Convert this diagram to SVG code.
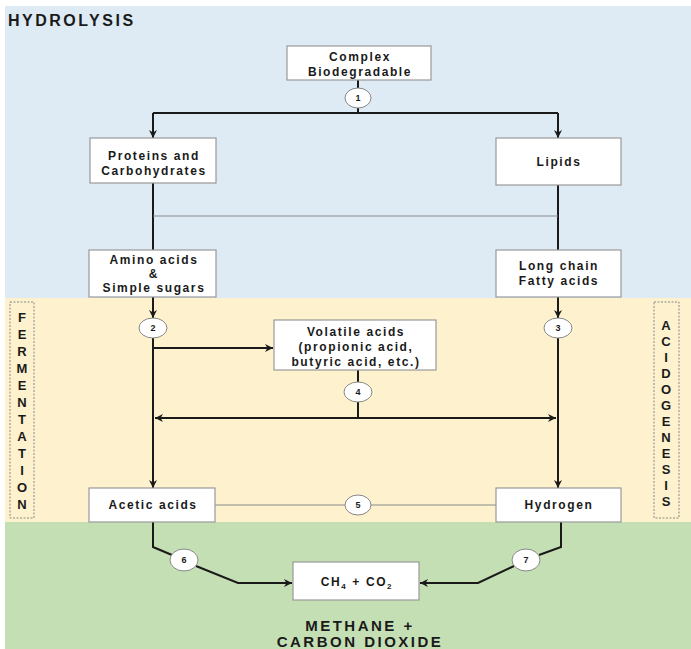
<svg xmlns="http://www.w3.org/2000/svg" width="691" height="649" viewBox="0 0 691 649">
<defs>
<marker id="ah" viewBox="0 0 10 10" refX="10" refY="5" markerWidth="8" markerHeight="8" markerUnits="userSpaceOnUse" orient="auto">
<path d="M0,0 L10,5 L0,10 L3,5 Z" fill="#1a1a1a"/>
</marker>
<style>
.box{fill:#fff;stroke:#999;stroke-width:1.2}
.t{font-family:"Liberation Sans",Arial,sans-serif;font-weight:bold;font-size:12px;fill:#1a1a1a;text-anchor:middle;letter-spacing:1.6px}
.n{font-family:"Liberation Sans",Arial,sans-serif;font-weight:bold;font-size:9px;fill:#1a1a1a;text-anchor:middle}
.h{font-family:"Liberation Sans",Arial,sans-serif;font-weight:bold;font-size:15px;fill:#1a1a1a;letter-spacing:2.5px}
.v{font-family:"Liberation Sans",Arial,sans-serif;font-weight:bold;font-size:13px;fill:#1a1a1a;text-anchor:middle}
.c{fill:none;stroke:#1a1a1a;stroke-width:2}
.thin{fill:none;stroke:#8a8a8a;stroke-width:1}
.badge{fill:#fff;stroke:#888;stroke-width:1}
.dash{fill:none;stroke:#888;stroke-width:1;stroke-dasharray:2,1.5}
</style>
</defs>
<rect x="0" y="0" width="691" height="649" fill="#fff"/>
<rect x="5" y="6" width="686" height="292" fill="#deebf5"/>
<rect x="5" y="298" width="686" height="224" fill="#fdf2cd"/>
<rect x="5" y="522" width="686" height="127" fill="#c5dfb5"/>

<text class="h" x="8" y="26" style="font-size:16px">HYDROLYSIS</text>

<g id="connectors">
<path class="c" d="M358,80 V88"/>
<path class="c" d="M358,108 V113"/>
<path class="c" d="M153,113 H558"/>
<path class="c" d="M153,113 V138" marker-end="url(#ah)"/>
<path class="c" d="M558,113 V138" marker-end="url(#ah)"/>
<path class="c" d="M153,183 V250"/>
<path class="c" d="M558,185 V250"/>
<path class="thin" d="M153,216 H558"/>
<path class="c" d="M153,297 V318" marker-end="url(#ah)"/>
<path class="c" d="M558,297 V318" marker-end="url(#ah)"/>
<path class="c" d="M153,338 V488" marker-end="url(#ah)"/>
<path class="c" d="M153,348 H273" marker-end="url(#ah)"/>
<path class="c" d="M558,338 V488" marker-end="url(#ah)"/>
<path class="c" d="M358,370 V382"/>
<path class="c" d="M358,402 V418"/>
<path class="c" d="M358,418 H155" marker-end="url(#ah)"/>
<path class="c" d="M358,418 H556" marker-end="url(#ah)"/>
<path class="thin" d="M215,505 H345"/>
<path class="thin" d="M371,505 H496"/>
<path class="c" d="M153,522 V547 L172,555"/>
<path class="c" d="M196,566 L238,583 H292" marker-end="url(#ah)"/>
<path class="c" d="M561,522 V547 L539,555"/>
<path class="c" d="M514,566 L478,583 H420" marker-end="url(#ah)"/>
</g>

<g id="badge1"><ellipse class="badge" cx="358" cy="98" rx="13" ry="10"/><text class="n" x="358" y="101">1</text></g>
<g id="badge2"><ellipse class="badge" cx="153" cy="328" rx="14" ry="10"/><text class="n" x="153" y="331">2</text></g>
<g id="badge3"><ellipse class="badge" cx="558" cy="328" rx="14" ry="10"/><text class="n" x="558" y="331">3</text></g>
<g id="badge4"><ellipse class="badge" cx="358" cy="392" rx="14" ry="10"/><text class="n" x="358" y="395">4</text></g>
<g id="badge5"><ellipse class="badge" cx="358" cy="505" rx="13" ry="10"/><text class="n" x="358" y="508">5</text></g>
<g id="badge6"><ellipse class="badge" cx="184" cy="560" rx="14" ry="11"/><text class="n" x="184" y="563">6</text></g>
<g id="badge7"><ellipse class="badge" cx="526" cy="560" rx="14" ry="11"/><text class="n" x="526" y="563">7</text></g>

<g id="complex"><rect class="box" x="287" y="46" width="144" height="34"/>
<text class="t" x="360" y="61">Complex</text><text class="t" x="360" y="76">Biodegradable</text></g>

<g id="proteins"><rect class="box" x="90" y="138" width="126" height="45"/>
<text class="t" x="154" y="160">Proteins and</text><text class="t" x="154" y="175">Carbohydrates</text></g>

<g id="lipids"><rect class="box" x="496" y="138" width="125" height="47"/>
<text class="t" x="559" y="166">Lipids</text></g>

<g id="amino"><rect class="box" x="89" y="250" width="127" height="47"/>
<text class="t" x="154" y="264">Amino acids</text><text class="t" x="154" y="278">&amp;</text><text class="t" x="154" y="292">Simple sugars</text></g>

<g id="longchain"><rect class="box" x="496" y="250" width="125" height="47"/>
<text class="t" x="559" y="270">Long chain</text><text class="t" x="559" y="285">Fatty acids</text></g>

<g id="volatile"><rect class="box" x="274" y="320" width="162" height="50"/>
<text class="t" x="356" y="336">Volatile acids</text><text class="t" x="356" y="351">(propionic acid,</text><text class="t" x="356" y="366">butyric acid, etc.)</text></g>

<g id="acetic"><rect class="box" x="89" y="488" width="126" height="34"/>
<text class="t" x="153" y="509">Acetic acids</text></g>

<g id="hydrogen"><rect class="box" x="496" y="488" width="125" height="34"/>
<text class="t" x="559" y="509">Hydrogen</text></g>

<g id="ch4"><rect class="box" x="293" y="562" width="126" height="38"/>
<text class="t" x="357" y="586">CH<tspan font-size="8" dy="3">4</tspan><tspan dy="-3"> + CO</tspan><tspan font-size="8" dy="3">2</tspan></text></g>

<g id="fermentation"><rect class="dash" x="10" y="302" width="24" height="216"/>
<text class="v" x="22" y="322">F</text><text class="v" x="22" y="339">E</text><text class="v" x="22" y="356">R</text><text class="v" x="22" y="373">M</text><text class="v" x="22" y="390">E</text><text class="v" x="22" y="407">N</text><text class="v" x="22" y="424">T</text><text class="v" x="22" y="441">A</text><text class="v" x="22" y="458">T</text><text class="v" x="22" y="475">I</text><text class="v" x="22" y="492">O</text><text class="v" x="22" y="509">N</text></g>

<g id="acidogenesis"><rect class="dash" x="654" y="302" width="25" height="216"/>
<text class="v" x="666" y="330">A</text><text class="v" x="666" y="346">C</text><text class="v" x="666" y="362">I</text><text class="v" x="666" y="378">D</text><text class="v" x="666" y="394">O</text><text class="v" x="666" y="410">G</text><text class="v" x="666" y="426">E</text><text class="v" x="666" y="442">N</text><text class="v" x="666" y="458">E</text><text class="v" x="666" y="474">S</text><text class="v" x="666" y="490">I</text><text class="v" x="666" y="506">S</text></g>

<g id="methane"><text class="h" x="360" y="631" text-anchor="middle">METHANE +</text><text class="h" x="360" y="647" text-anchor="middle">CARBON DIOXIDE</text></g>
</svg>
